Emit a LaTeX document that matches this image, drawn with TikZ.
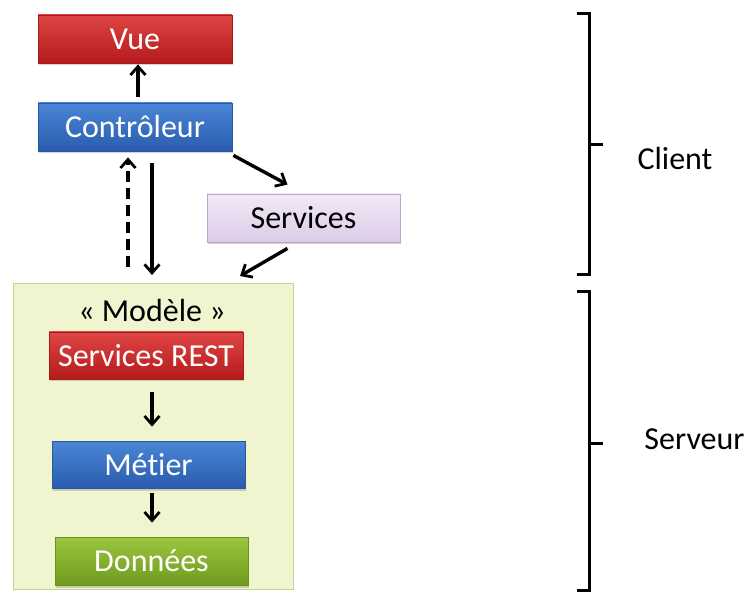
\documentclass[tikz,border=0pt]{standalone}
\usepackage{fontspec}
\setmainfont{Carlito}[Ligatures=NoCommon]
\usetikzlibrary{arrows.meta,shadows}
\definecolor{redtop}{HTML}{E04545}
\definecolor{redbot}{HTML}{B51A1C}
\definecolor{redline}{HTML}{A8191B}
\definecolor{bluetop}{HTML}{4A86D6}
\definecolor{bluebot}{HTML}{2A5CAE}
\definecolor{blueline}{HTML}{2A56A0}
\definecolor{greentop}{HTML}{9CC63E}
\definecolor{greenbot}{HTML}{6F9A1E}
\definecolor{greenline}{HTML}{6A9220}
\definecolor{purptop}{HTML}{F2EAF6}
\definecolor{purpbot}{HTML}{DCCBE8}
\definecolor{purpline}{HTML}{B9A6CD}
\definecolor{modfill}{HTML}{F0F5CF}
\definecolor{modline}{HTML}{C6D48E}
\begin{document}
\begin{tikzpicture}[x=1pt,y=-1pt,
  every node/.style={font=\fontsize{32}{38}\selectfont, inner sep=0pt},
  boxbase/.style={minimum width=194pt, minimum height=48pt, line width=0.8pt,
    drop shadow={opacity=0.35, shadow xshift=1pt, shadow yshift=-2.5pt}},
  redbox/.style={boxbase, draw=redline, top color=redtop, bottom color=redbot, text=white},
  bluebox/.style={boxbase, draw=blueline, top color=bluetop, bottom color=bluebot, text=white},
  greenbox/.style={boxbase, draw=greenline, top color=greentop, bottom color=greenbot, text=white},
  purpbox/.style={boxbase, draw=purpline, top color=purptop, bottom color=purpbot, text=black},
  modbox/.style={draw=modline, fill=modfill, line width=1pt, minimum width=280pt, minimum height=306pt},
  arr/.style={line width=3.4pt, -{Straight Barb[length=8.5pt,width=15pt,line width=2.8pt]}},
  brk/.style={line width=3pt, line cap=butt, line join=miter},
  lbl/.style={text=black}
]
\useasboundingbox (0,0) rectangle (747,593);

\node[modbox] (model) at (153,436.5) {};
\node[lbl] (modtitle) at (152,311) {« Modèle »};

\node[redbox] (vue) at (135,39) {Vue};
\node[bluebox] (ctrl) at (135,127) {Contrôleur};
\node[purpbox, minimum width=193pt] (serv) at (303.5,218) {Services};
\node[redbox, minimum height=47pt] (rest) at (146,355.5) {Services REST};
\node[bluebox, minimum width=193pt, minimum height=47pt] (metier) at (148.5,464.5) {Métier};
\node[greenbox, minimum width=193pt] (donnees) at (151.5,561) {Données};

% arrows
\draw[arr] ([xshift=3pt,yshift=6pt]ctrl.north) -- ([xshift=3pt,yshift=-1pt]vue.south);
\draw[arr, dash pattern=on 11pt off 6pt] ([xshift=-25pt,yshift=16pt]model.north) -- ([xshift=-7pt,yshift=-6pt]ctrl.south);
\draw[arr] ([xshift=17pt,yshift=-12pt]ctrl.south) -- ([xshift=-1pt,yshift=8pt]model.north);
\draw[arr] ([xshift=1pt,yshift=-4pt]ctrl.south east) -- ([xshift=-16pt,yshift=9pt]serv.north);
\draw[arr] ([xshift=-16pt,yshift=-6pt]serv.south) -- ([xshift=87pt,yshift=7pt]model.north);
\draw[arr] ([xshift=6pt,yshift=-13pt]rest.south) -- ([xshift=3.5pt,yshift=14pt]metier.north);
\draw[arr] ([xshift=3.5pt,yshift=-5pt]metier.south) -- ([xshift=0.5pt,yshift=14pt]donnees.north);

% brackets
\coordinate (c1) at (577,14);
\coordinate (c2) at (589,14);
\coordinate (c3) at (589,275);
\coordinate (c4) at (577,275);
\coordinate (ct) at (603,145);
\draw[brk] (c1) -- (c2) -- (c3) -- (c4);
\draw[brk] (ct -| c2) -- (ct);
\coordinate (s1) at (577,292);
\coordinate (s2) at (589,292);
\coordinate (s3) at (589,590);
\coordinate (s4) at (577,590);
\coordinate (st) at (603,443);
\draw[brk] (s1) -- (s2) -- (s3) -- (s4);
\draw[brk] (st -| s2) -- (st);

\node[lbl] (client) at (675,159) {Client};
\node[lbl] (serveur) at (694.5,439) {Serveur};
\end{tikzpicture}
\end{document}
